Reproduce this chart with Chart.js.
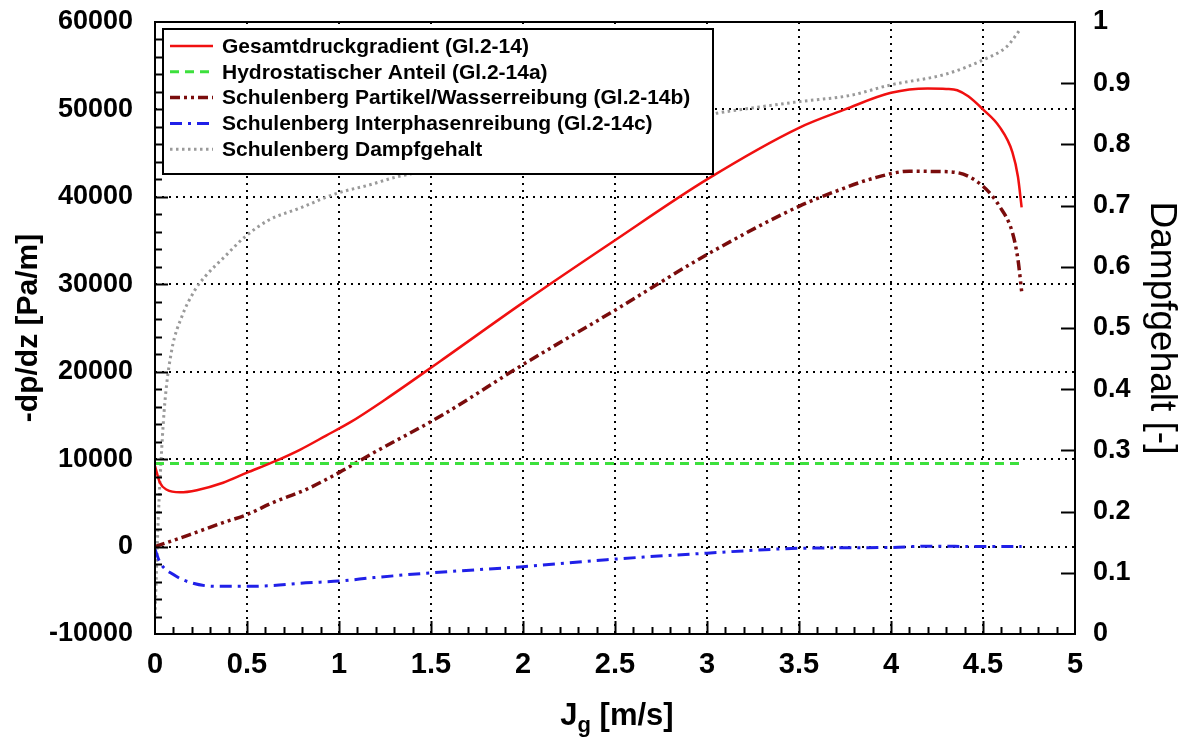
<!DOCTYPE html>
<html>
<head>
<meta charset="utf-8">
<script src="https://cdn.jsdelivr.net/npm/chart.js@4.4.1/dist/chart.umd.min.js"></script>
<style>
  html, body { margin: 0; padding: 0; background: #fff; }
  #wrap { width: 1188px; height: 738px; }
</style>
</head>
<body>
<div id="wrap"><canvas id="druckChart"></canvas></div>
<script>
// Gesamtdruckgradient (Gl.2-14)
const gesamtX = [0, 0.027, 0.064, 0.136, 0.227, 0.37, 0.5, 0.64, 0.79, 0.93, 1.06, 1.25, 1.55, 2.0, 2.49, 3.0, 3.5, 3.75, 4.0, 4.2, 4.3, 4.36, 4.42, 4.5, 4.59, 4.66, 4.69, 4.71];
const gesamtY = [9200, 7300, 6500, 6200, 6450, 7300, 8450, 9650, 11100, 12700, 14200, 16800, 21200, 27900, 34900, 42000, 47900, 50000, 51900, 52400, 52350, 52200, 51500, 50000, 48000, 45100, 42300, 38800];

// Hydrostatischer Anteil (Gl.2-14a)
const hydroX = [0, 4.7];
const hydroY = [9500, 9500];

// Schulenberg Partikel/Wasserreibung (Gl.2-14b)
const partikelX = [0, 0.19, 0.37, 0.5, 0.64, 0.82, 1.0, 1.19, 1.55, 2.0, 2.49, 3.0, 3.5, 3.7, 3.9, 4.1, 4.25, 4.36, 4.5, 4.59, 4.66, 4.69, 4.71];
const partikelY = [0, 1370, 2740, 3660, 5030, 6520, 8460, 10750, 14900, 20820, 26910, 33400, 38920, 40640, 42100, 42930, 42900, 42770, 41210, 38920, 35910, 32830, 29200];

// Schulenberg Interphasenreibung (Gl.2-14c)
const interX = [0, 0.027, 0.1, 0.19, 0.335, 0.5, 0.64, 0.82, 1.0, 1.19, 1.5, 2.0, 2.455, 3.0, 3.5, 4.0, 4.2, 4.5, 4.71];
const interY = [-300, -1800, -3200, -4100, -4550, -4550, -4450, -4150, -3950, -3550, -3000, -2300, -1500, -750, -200, -100, 50, 0, 0];

// Schulenberg Dampfgehalt (rechte Achse)
const dampfX = [0, 0.018, 0.036, 0.054, 0.091, 0.145, 0.217, 0.272, 0.38, 0.489, 0.616, 0.788, 0.988, 1.168, 1.314, 1.6, 2.0, 2.5, 3.053, 3.234, 3.505, 3.777, 3.995, 4.3, 4.5, 4.63, 4.7];
const dampfY = [0.03, 0.19, 0.30, 0.38, 0.464, 0.518, 0.562, 0.584, 0.617, 0.649, 0.676, 0.696, 0.72, 0.734, 0.747, 0.763, 0.785, 0.815, 0.851, 0.859, 0.87, 0.88, 0.897, 0.915, 0.938, 0.96, 0.987];

const xTicks = [0, 0.5, 1, 1.5, 2, 2.5, 3, 3.5, 4, 4.5, 5];
const yTicks = [-10000, 0, 10000, 20000, 30000, 40000, 50000, 60000];
const y1Ticks = [0, 0.1, 0.2, 0.3, 0.4, 0.5, 0.6, 0.7, 0.8, 0.9, 1];

const BOLD = "'Liberation Sans', Arial, sans-serif";
const NARROW = "'Liberation Sans Narrow', 'Liberation Sans', Arial, sans-serif";

function toPoints(xs, ys) {
  return xs.map((x, i) => ({ x: x, y: ys[i] }));
}

// gridlines, frame, inward ticks, legend box, x title
const framePlugin = {
  id: "frame",
  beforeDatasetsDraw(chart) {
    const { ctx, chartArea: a, scales } = chart;
    ctx.save();
    ctx.strokeStyle = "#000";
    ctx.lineWidth = 2;
    ctx.setLineDash([2, 5]);
    xTicks.slice(1, -1).forEach((v) => {
      const px = Math.round(scales.x.getPixelForValue(v));
      ctx.beginPath();
      ctx.moveTo(px, a.top);
      ctx.lineTo(px, a.bottom);
      ctx.stroke();
    });
    yTicks.slice(1, -1).forEach((v) => {
      const py = Math.round(scales.y.getPixelForValue(v));
      ctx.beginPath();
      ctx.moveTo(a.left, py);
      ctx.lineTo(a.right, py);
      ctx.stroke();
    });
    ctx.restore();
  },
  afterDatasetsDraw(chart) {
    const { ctx, chartArea: a, scales } = chart;
    ctx.save();
    ctx.setLineDash([]);
    ctx.strokeStyle = "#000";
    ctx.lineWidth = 2;

    // x ticks (minor 0.1, major 0.5)
    for (let i = 1; i < 50; i++) {
      const v = i / 10;
      const px = Math.round(scales.x.getPixelForValue(v)) + 0.5;
      const len = i % 5 === 0 ? 13 : 7;
      ctx.beginPath();
      ctx.moveTo(px, a.bottom);
      ctx.lineTo(px, a.bottom - len);
      ctx.stroke();
    }
    // left ticks (minor 2000, major 10000)
    for (let v = -8000; v < 60000; v += 2000) {
      const py = Math.round(scales.y.getPixelForValue(v)) + 0.5;
      const len = v % 10000 === 0 ? 13 : 7;
      ctx.beginPath();
      ctx.moveTo(a.left, py);
      ctx.lineTo(a.left + len, py);
      ctx.stroke();
    }
    // right ticks (0.1)
    y1Ticks.slice(1, -1).forEach((v) => {
      const py = Math.round(scales.y1.getPixelForValue(v)) + 0.5;
      ctx.beginPath();
      ctx.moveTo(a.right, py);
      ctx.lineTo(a.right - 14, py);
      ctx.stroke();
    });
    // frame
    ctx.strokeRect(a.left, a.top, a.right - a.left, a.bottom - a.top);

    // legend
    const lx = 163, ly = 29, lw = 550, lh = 145;
    ctx.fillStyle = "#fff";
    ctx.fillRect(lx, ly, lw, lh);
    ctx.strokeRect(lx, ly, lw, lh);
    ctx.font = "bold 21px " + BOLD;
    ctx.textBaseline = "middle";
    ctx.textAlign = "left";
    chart.data.datasets.forEach((ds, i) => {
      const yy = 46 + i * 25.8;
      ctx.strokeStyle = ds.borderColor;
      ctx.lineWidth = ds.borderWidth;
      ctx.setLineDash(ds.borderDash || []);
      ctx.beginPath();
      ctx.moveTo(170, yy);
      ctx.lineTo(213, yy);
      ctx.stroke();
      ctx.setLineDash([]);
      ctx.fillStyle = "#000";
      ctx.fillText(ds.label, 222, yy + 1);
    });

    // x axis title with subscript
    ctx.fillStyle = "#000";
    ctx.textBaseline = "alphabetic";
    const big = "bold 31px " + NARROW;
    const small = "bold 22px " + NARROW;
    ctx.font = big;
    const wJ = ctx.measureText("J").width;
    const wRest = ctx.measureText(" [m/s]").width;
    ctx.font = small;
    const wg = ctx.measureText("g").width;
    const cx = (a.left + a.right) / 2 + 2;
    let x0 = cx - (wJ + wg + wRest) / 2;
    const base = 725;
    ctx.font = big;
    ctx.fillText("J", x0, base);
    ctx.font = small;
    ctx.fillText("g", x0 + wJ, base + 7);
    ctx.font = big;
    ctx.fillText(" [m/s]", x0 + wJ + wg, base);
    ctx.restore();
  },
};

const ctx = document.getElementById("druckChart");

new Chart(ctx, {
  type: "line",
  data: {
    datasets: [
      {
        label: "Gesamtdruckgradient (Gl.2-14)",
        data: toPoints(gesamtX, gesamtY),
        borderColor: "#f01010",
        borderWidth: 2.5,
        yAxisID: "y",
      },
      {
        label: "Hydrostatischer Anteil (Gl.2-14a)",
        data: toPoints(hydroX, hydroY),
        borderColor: "#3de03d",
        borderWidth: 3,
        borderDash: [9, 6],
        yAxisID: "y",
      },
      {
        label: "Schulenberg Partikel/Wasserreibung (Gl.2-14b)",
        data: toPoints(partikelX, partikelY),
        borderColor: "#7a0c0c",
        borderWidth: 3.5,
        borderDash: [10, 4, 3, 4, 3, 4],
        yAxisID: "y",
      },
      {
        label: "Schulenberg Interphasenreibung (Gl.2-14c)",
        data: toPoints(interX, interY),
        borderColor: "#2020e8",
        borderWidth: 3,
        borderDash: [12, 6, 3, 6],
        yAxisID: "y",
      },
      {
        label: "Schulenberg Dampfgehalt",
        data: toPoints(dampfX, dampfY),
        borderColor: "#9a9a9a",
        borderWidth: 3,
        borderDash: [2.5, 3.5],
        yAxisID: "y1",
      },
    ],
  },
  options: {
    responsive: true,
    maintainAspectRatio: false,
    animation: false,
    devicePixelRatio: 1,
    layout: { padding: { top: 22, left: 0, right: 0, bottom: 0 } },
    elements: {
      point: { radius: 0 },
      line: { cubicInterpolationMode: "monotone", fill: false },
    },
    plugins: {
      legend: { display: false },
      tooltip: { enabled: false },
    },
    scales: {
      x: {
        type: "linear",
        min: 0,
        max: 5,
        afterFit: (s) => { s.height = 104; s.paddingLeft = 0; s.paddingRight = 0; },
        afterBuildTicks: (s) => { s.ticks = xTicks.map((v) => ({ value: v })); },
        grid: { display: false, drawTicks: false },
        border: { display: false },
        ticks: {
          padding: 14,
          color: "#000",
          font: { family: NARROW, size: 29, weight: "bold" },
          callback: (v) => String(v),
          maxRotation: 0,
        },
      },
      y: {
        type: "linear",
        position: "left",
        min: -10000,
        max: 60000,
        afterFit: (s) => { s.width = 155; s.paddingTop = 0; s.paddingBottom = 0; },
        afterBuildTicks: (s) => { s.ticks = yTicks.map((v) => ({ value: v })); },
        grid: { display: false, drawTicks: false },
        border: { display: false },
        ticks: {
          padding: 22,
          color: "#000",
          font: { family: BOLD, size: 27, weight: "bold" },
          callback: (v) => String(v),
        },
        title: {
          display: true,
          text: "-dp/dz [Pa/m]",
          color: "#000",
          font: { family: BOLD, size: 30, weight: "bold" },
          padding: { top: 11, bottom: 0 },
        },
      },
      y1: {
        type: "linear",
        position: "right",
        min: 0,
        max: 1,
        afterFit: (s) => { s.width = 113; s.paddingTop = 0; s.paddingBottom = 0; },
        afterBuildTicks: (s) => { s.ticks = y1Ticks.map((v) => ({ value: v })); },
        grid: { display: false, drawTicks: false },
        border: { display: false },
        ticks: {
          padding: 18,
          color: "#000",
          font: { family: BOLD, size: 27, weight: "bold" },
          callback: (v) => String(Number(v.toFixed(1))),
        },
        title: {
          display: true,
          text: "Dampfgehalt [-]",
          color: "#000",
          font: { family: BOLD, size: 37, weight: "normal" },
          padding: { top: 5, bottom: 0 },
        },
      },
    },
  },
  plugins: [framePlugin],
});
</script>
</body>
</html>
